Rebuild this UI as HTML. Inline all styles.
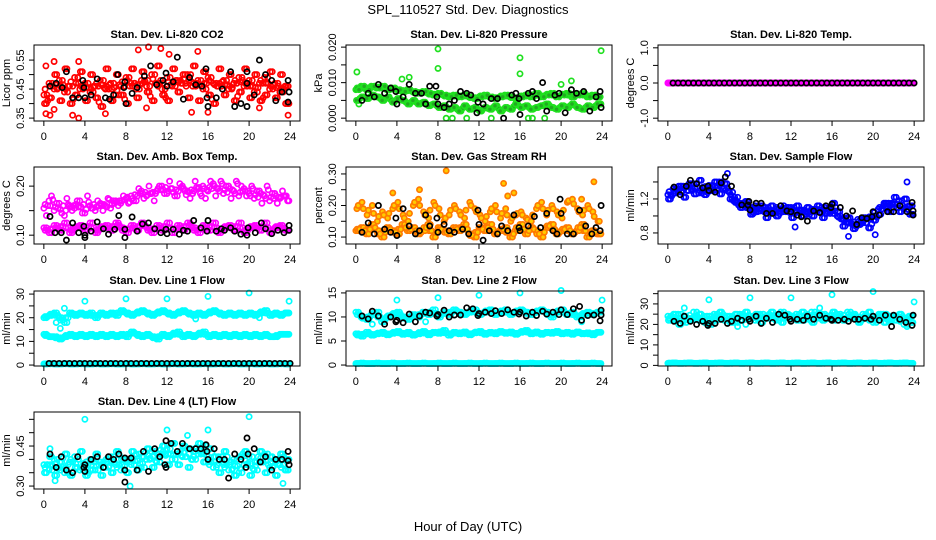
<!DOCTYPE html>
<html><head><meta charset="utf-8"><title>SPL_110527 Std. Dev. Diagnostics</title>
<style>
html,body{margin:0;padding:0;background:#fff;}
svg{display:block;font-family:"Liberation Sans",sans-serif;}
</style></head>
<body>
<svg id="chart" width="936" height="540" viewBox="0 0 936 540" xmlns="http://www.w3.org/2000/svg">
<rect width="936" height="540" fill="#fff"/>
<text x="468" y="14" text-anchor="middle" font-size="13">SPL_110527  Std. Dev. Diagnostics</text>
<text x="468" y="531" text-anchor="middle" font-size="13">Hour of Day (UTC)</text>
</svg>
<script>
// ---- data ----
const xTicks = [0,4,8,12,16,20,24];
const co2A = [0.43,0.47,0.45,0.48,0.44,0.46,0.49,0.45,0.47,0.44,0.46,0.48,0.45,0.47,0.43,0.46,0.49,0.47,0.45,0.48,0.46,0.50,0.47,0.45,0.49,0.46,0.48,0.47,0.50,0.46,0.48,0.45,0.49,0.47,0.46,0.48,0.45,0.47,0.49,0.46,0.48,0.44,0.47,0.49,0.45,0.47,0.44,0.46];
const co2B = [0.40,0.42,0.50,0.41,0.52,0.40,0.43,0.51,0.41,0.50,0.42,0.39,0.52,0.41,0.50,0.43,0.40,0.52,0.42,0.51,0.44,0.41,0.53,0.43,0.41,0.52,0.44,0.50,0.42,0.53,0.41,0.51,0.43,0.40,0.52,0.43,0.50,0.41,0.44,0.52,0.42,0.50,0.41,0.43,0.51,0.42,0.50,0.40];
const co2OutX = [0.2,0.2,0.6,1.0,1.0,2.8,3.4,3.4,9.2,10.2,11.4,12.2,15,14.4,16,23.8,6,10,21];
const co2OutY = [0.53,0.365,0.36,0.545,0.38,0.36,0.35,0.545,0.585,0.595,0.59,0.57,0.58,0.37,0.37,0.36,0.365,0.385,0.385];
const co2BlkX = [0.6,1.2,1.8,2.2,2.8,3.4,3.8,3.9,4,4.6,5.2,6,6.4,6.8,7.2,7.8,7.9,8,8.6,9.1,9.8,10.4,11,11.6,11.9,12,12.6,13,13.6,14.2,14.8,15.4,15.8,15.9,16,16.8,17.4,18.2,18.6,19.2,19.8,19.8,19.8,20.5,21,21.6,22.2,22.6,23.2,23.8,23.9,23.8];
const co2BlkY = [0.46,0.47,0.455,0.51,0.42,0.42,0.48,0.455,0.42,0.43,0.485,0.42,0.415,0.43,0.5,0.455,0.475,0.4,0.435,0.455,0.495,0.53,0.465,0.48,0.505,0.46,0.475,0.56,0.415,0.49,0.465,0.46,0.52,0.42,0.39,0.42,0.45,0.51,0.39,0.40,0.47,0.51,0.39,0.43,0.55,0.5,0.48,0.41,0.44,0.48,0.44,0.405];

const prA = [0.008,0.009,0.008,0.009,0.0085,0.009,0.008,0.0085,0.008,0.0075,0.008,0.0075,0.007,0.0075,0.007,0.0065,0.007,0.0065,0.006,0.0065,0.006,0.0065,0.006,0.0055,0.006,0.0065,0.006,0.0055,0.006,0.0065,0.006,0.0055,0.006,0.0065,0.006,0.007,0.006,0.0065,0.007,0.006,0.0065,0.007,0.006,0.0065,0.007,0.006,0.0065,0.006];
const prB = [0.005,0.006,0.0055,0.0065,0.006,0.005,0.006,0.0045,0.0055,0.005,0.004,0.005,0.004,0.0045,0.0035,0.004,0.003,0.0035,0.0025,0.003,0.002,0.0035,0.0025,0.003,0.002,0.003,0.0025,0.0035,0.002,0.003,0.0025,0.004,0.003,0.0035,0.0025,0.003,0.0035,0.004,0.003,0.0025,0.0035,0.003,0.004,0.003,0.0025,0.0035,0.003,0.004];
const prOutX = [0.1,0.3,4.5,5.2,8,8,16,16,23.9,20,21,8.8,9.4,10.8,13.2,16.8,17.2,18.4];
const prOutY = [0.013,0.004,0.011,0.0115,0.0195,0.014,0.017,0.0125,0.019,0.0095,0.0105,0,0,0,0,0,0,0];
const prBlkX = [0.6,1.2,1.8,2.2,2.8,3.4,3.9,4,4.6,5.2,5.8,6.4,6.8,7.2,7.8,7.9,8,8.6,9.1,9.6,10.2,10.8,11.2,11.8,11.9,12.4,13.2,13.8,14.4,15.2,15.6,15.9,16,16.8,17.2,17.6,18.2,18.6,19.4,19.8,20.4,21,21.5,22.2,22.8,23.4,23.8,23.9];
const prBlkY = [0.005,0.007,0.006,0.0095,0.007,0.0085,0.0075,0.004,0.006,0.0095,0.007,0.007,0.004,0.009,0.009,0.006,0.004,0.003,0.004,0.005,0.0075,0.007,0.0065,0.0015,0.0045,0.004,0.0055,0.0055,0,0.0065,0.007,0.0055,0.001,0.007,0.0075,0.0055,0.01,0.002,0.0065,0.007,0.0015,0.008,0.007,0.0075,0.002,0.006,0.0075,0.003];

const tmpMag = [0,0,0,0,0,0,0,0,0,0,0,0,0,0,0,0,0,0,0,0,0,0,0,0,0,0,0,0,0,0,0,0,0,0,0,0,0,0,0,0,0,0,0,0,0,0,0,0];
const tmpBlk = [0,0,0,0,0,0,0,0,0,0,0,0,0,0,0,0,0,0,0,0,0,0,0,0,0,0,0,0,0,0,0,0,0,0,0,0,0,0,0,0,0,0,0,0,0,0,0,0];

const ambUp = [0.155,0.17,0.15,0.165,0.14,0.16,0.155,0.17,0.145,0.16,0.15,0.165,0.16,0.155,0.17,0.165,0.175,0.18,0.17,0.19,0.18,0.185,0.19,0.2,0.185,0.195,0.18,0.2,0.19,0.185,0.195,0.2,0.19,0.205,0.195,0.185,0.2,0.19,0.18,0.195,0.185,0.175,0.19,0.18,0.17,0.185,0.175,0.18];
const ambUp2 = [0.14,0.18,0.165,0.145,0.175,0.15,0.17,0.145,0.18,0.155,0.17,0.15,0.175,0.17,0.16,0.18,0.165,0.17,0.195,0.175,0.2,0.17,0.2,0.185,0.21,0.18,0.205,0.19,0.175,0.21,0.185,0.175,0.21,0.18,0.21,0.2,0.175,0.21,0.2,0.18,0.2,0.19,0.165,0.2,0.185,0.165,0.19,0.17];
const ambLow = [0.115,0.105,0.12,0.11,0.125,0.105,0.115,0.12,0.11,0.125,0.105,0.115,0.12,0.11,0.125,0.115,0.105,0.12,0.11,0.125,0.115,0.105,0.12,0.11,0.125,0.105,0.12,0.11,0.125,0.115,0.105,0.12,0.11,0.125,0.105,0.115,0.12,0.11,0.125,0.105,0.115,0.12,0.11,0.125,0.105,0.115,0.12,0.11];
const ambBlkX = [0.6,1.1,1.7,2.2,2.8,3.4,3.9,4,4,4.6,5.2,5.8,6.3,6.9,7.3,7.9,7.9,8.6,9.1,9.6,10.2,10.8,11.4,11.9,12,12.6,13.2,13.6,14,14.6,15.3,15.9,16,16.8,17.3,17.6,18.2,18.6,19.2,19.8,19.9,20.6,21.2,21.6,22.2,22.8,23.4,23.9,23.9];
const ambBlkY = [0.138,0.105,0.105,0.09,0.125,0.105,0.118,0.1,0.095,0.108,0.127,0.113,0.102,0.112,0.14,0.112,0.095,0.137,0.108,0.123,0.125,0.113,0.105,0.112,0.103,0.112,0.102,0.11,0.108,0.13,0.115,0.108,0.13,0.108,0.113,0.11,0.115,0.108,0.102,0.1,0.115,0.105,0.125,0.113,0.103,0.11,0.105,0.11,0.12];

const rhLow = [0.12,0.13,0.11,0.14,0.12,0.10,0.13,0.12,0.11,0.14,0.12,0.13,0.11,0.12,0.14,0.10,0.13,0.12,0.11,0.13,0.12,0.14,0.11,0.10,0.13,0.12,0.14,0.11,0.12,0.13,0.10,0.12,0.14,0.11,0.13,0.12,0.10,0.13,0.14,0.11,0.12,0.13,0.11,0.12,0.14,0.10,0.12,0.11];
const rhHigh = [0.19,0.21,0.17,0.20,0.15,0.18,0.16,0.19,0.21,0.17,0.15,0.20,0.22,0.18,0.16,0.21,0.19,0.15,0.17,0.20,0.18,0.16,0.21,0.19,0.17,0.15,0.18,0.20,0.16,0.19,0.15,0.17,0.18,0.16,0.15,0.19,0.21,0.17,0.20,0.18,0.16,0.21,0.22,0.19,0.17,0.20,0.18,0.15];
const rhOutX = [8.8,14.4,23.2,6.2,3.6,15.4,14.8,22];
const rhOutY = [0.31,0.27,0.275,0.25,0.24,0.24,0.23,0.22];
const rhBlkX = [0.6,1.2,1.8,2.2,2.8,3.4,3.9,4,4.6,5.2,5.8,6.2,6.8,7.2,7.9,8,8.6,9.1,9.6,10.4,11,11.9,12,12.4,13,13.8,14.2,14.8,15.4,15.9,16,16.8,17.4,18,18.6,19.2,19.6,19.9,20,20.6,21.2,21.8,22.4,23,23.4,23.8,23.9];
const rhBlkY = [0.115,0.145,0.11,0.2,0.125,0.115,0.16,0.105,0.19,0.135,0.11,0.12,0.17,0.135,0.16,0.115,0.14,0.12,0.115,0.125,0.11,0.185,0.14,0.09,0.12,0.11,0.135,0.12,0.17,0.13,0.12,0.135,0.165,0.13,0.175,0.12,0.11,0.22,0.175,0.11,0.11,0.185,0.135,0.11,0.13,0.12,0.2];

const flA = [1.25,1.32,1.28,1.35,1.30,1.38,1.27,1.33,1.36,1.30,1.40,1.33,1.28,1.22,1.15,1.12,1.08,1.12,1.06,1.10,1.03,1.08,1.12,1.05,1.10,1.04,1.07,1.02,1.08,1.05,1.10,1.03,1.06,1.00,0.97,0.93,0.90,0.96,0.92,0.98,1.00,1.08,1.12,1.15,1.10,1.18,1.08,1.12];
const flB = [1.20,1.27,1.35,1.22,1.38,1.26,1.42,1.25,1.30,1.40,1.26,1.38,1.20,1.16,1.10,1.17,1.02,1.05,1.12,0.98,1.12,1.00,1.05,1.10,0.98,1.12,1.00,1.10,1.00,1.12,0.98,1.08,1.15,1.05,0.88,0.98,0.85,0.90,0.98,0.86,0.95,1.02,1.15,1.05,1.22,1.05,1.20,1.02];
const flOutX = [5.8,23.3,17.6,20.2,12.4,1.3];
const flOutY = [1.5,1.4,0.76,0.78,0.87,1.35];
const flBlkX = [0.6,1.2,1.8,2.2,2.8,3.4,3.9,4,4.6,5.2,5.6,6.2,7.2,7.8,7.9,8,8.6,9.1,9.6,10.2,11,11.6,12,12.6,13,13.6,14.2,14.8,15.4,15.9,16,16.8,17.4,18,18.4,18.9,19.4,19.9,20,20.6,21.4,22,22.6,23.3,23.8,23.9,23.9];
const flBlkY = [1.34,1.25,1.35,1.42,1.38,1.33,1.35,1.3,1.28,1.39,1.46,1.35,1.13,1.13,1.17,1.07,1.15,1.15,1.03,1.03,1.12,1.06,1.05,1.01,0.99,0.94,1.06,1.04,1.12,1.1,1.14,1.1,1.0,1.06,0.9,0.98,0.97,0.99,1.05,1.01,1.05,1.05,1.12,1.05,1.16,1.06,1.01];

const l1High = [20,21,22,20,18,22,21,22,21,22,20,22,21,22,21,23,22,21,22,23,22,21,22,23,22,21,22,23,22,21,22,21,22,23,22,21,22,21,22,21,22,21,22,23,21,22,21,22];
const l1Mid = [13,12,12,11,12,13,12,13,12,13,12,13,12,13,12,13,12,14,13,12,13,12,11,13,12,13,14,12,13,12,13,14,12,13,12,13,12,13,12,13,12,13,12,13,12,12,13,13];
const l1Low = [0.5,0.6,0.5,0.5,0.6,0.5,0.5,0.6,0.5,0.5,0.6,0.5,0.5,0.6,0.5,0.5,0.6,0.5,0.5,0.6,0.5,0.5,0.6,0.5,0.5,0.6,0.5,0.5,0.6,0.5,0.5,0.6,0.5,0.5,0.6,0.5,0.5,0.6,0.5,0.5,0.6,0.5,0.5,0.6,0.5,0.5,0.6,0.5];
const l1OutX = [1.6,1.2,2,4,8,12,16,20,23.9,14.8,21];
const l1OutY = [15.5,18,24,27,28,28,29,30.5,27,19.5,20];
const l1Blk = [0.7,0.7,0.7,0.7,0.7,0.7,0.7,0.7,0.7,0.7,0.7,0.7,0.7,0.7,0.7,0.7,0.7,0.7,0.7,0.7,0.7,0.7,0.7,0.7,0.7,0.7,0.7,0.7,0.7,0.7,0.7,0.7,0.7,0.7,0.7,0.7,0.7,0.7,0.7,0.7,0.7,0.7,0.7,0.7,0.7,0.7,0.7,0.7];

const l2High = [11,10,9.5,10.5,11,9,10,10.5,11,10,9.5,10.5,10,11,10.5,11.5,10,11,10.5,11.5,11,10.5,11,11.5,10.5,11,11.5,10.5,11,11.5,10.5,11,11.5,11,10.5,11,11.5,11,10,11,11.5,10.5,11,10,10.5,11,10.5,11];
const l2Mid = [6.5,6,6.8,6.2,6.5,6.8,6.3,6.6,7,6.4,6.8,6.2,6.5,7,6.3,6.8,6.6,7.2,6.2,6.8,6.5,6.9,6.3,6.7,7,6.4,6.8,6.5,7,6.6,6.9,6.4,6.8,7.2,6.5,6.9,6.4,6.8,6.6,7,6.5,6.8,6.4,6.9,6.5,6.7,6.3,6.8];
const l2Low = [0.3,0.4,0.3,0.3,0.4,0.3,0.3,0.4,0.3,0.3,0.4,0.3,0.3,0.4,0.3,0.3,0.4,0.3,0.3,0.4,0.3,0.3,0.4,0.3,0.3,0.4,0.3,0.3,0.4,0.3,0.3,0.4,0.3,0.3,0.4,0.3,0.3,0.4,0.3,0.3,0.4,0.3,0.3,0.4,0.3,0.3,0.4,0.3];
const l2OutX = [4,8,12,16,20,24,1.6,6.8,22];
const l2OutY = [13.5,14,14.5,15,15.5,13.5,8.5,9,9];
const l2BlkX = [0.6,1.2,1.6,2.2,2.8,3.4,3.9,4,4.6,5.2,5.8,6.2,6.8,7.2,7.9,8,8.6,9.1,9.6,10.2,10.8,11.4,11.9,12,12.6,13.2,13.6,14.2,14.8,15.4,15.9,16,16.6,17.2,17.6,18.2,18.6,19.2,19.8,20,20.6,21.2,21.8,22,22.6,23.2,23.8,23.9,23.9];
const l2BlkY = [10.2,9.6,11.2,10.2,8.5,10,9,9.3,8.8,10.6,9,10.2,11,10.8,10.2,10.5,11.4,10,10.4,10.4,11.9,11.7,10.3,10.7,11,10.7,11.3,10.7,11.5,11,10.6,11,10.2,11,10.3,11.2,10.6,11,10.5,11.5,10.5,11.7,12.2,9.3,10.3,10.4,9.2,11.4,10.4];

const l3A = [24,22,25,21,23,26,22,24,20,25,23,22,24,21,25,23,24,22,25,23,24,22,26,24,23,25,22,24,26,23,25,24,22,25,23,26,24,22,25,23,21,24,25,22,24,23,20,24];
const l3B = [22,25,20,24,22,23,25,21,24,22,26,24,21,25,22,26,23,25,21,24,26,23,21,25,24,22,26,23,21,25,22,23,26,24,22,23,25,21,23,26,22,25,21,24,22,25,23,21];
const l3Low = [1,1.2,1,1,1.2,1,1,1.2,1,1,1.2,1,1,1.2,1,1,1.2,1,1,1.2,1,1,1.2,1,1,1.2,1,1,1.2,1,1,1.2,1,1,1.2,1,1,1.2,1,1,1.2,1,1,1.2,1,1,1.2,1];
const l3OutX = [4,8,12,16,20,24,1.6,14.8,23.3,6.8,7.6];
const l3OutY = [32,33,33,34.5,36,31,28,28,19,19,20];
const l3BlkX = [0.6,1.2,1.6,2.2,2.8,3.4,3.9,4,4.6,5.2,5.8,6.2,6.8,7.2,7.9,8,8.6,9.1,9.6,10.2,10.8,11.4,11.9,12,12.6,13.2,13.6,14.2,14.8,15.4,15.9,16,16.6,17.2,17.6,18.2,18.6,19.2,19.8,20,20.6,21.2,21.8,22,22.6,23.2,23.8,23.9];
const l3BlkY = [21.5,20.5,24,21.5,20,21.5,19.5,20.5,20.5,22.5,20.5,21.5,23,22,22.5,21.5,24,20.5,23,21,25,24.5,22.5,21.5,22.5,22,24,22.5,24.5,23,22.5,22,22,22.5,21.5,22.5,22.5,23,22.5,24,22,24.5,19,24.5,22.5,21,19.5,24.5];

const ltA = [0.38,0.36,0.40,0.37,0.35,0.39,0.41,0.36,0.38,0.40,0.36,0.39,0.37,0.41,0.38,0.36,0.40,0.38,0.42,0.37,0.40,0.43,0.39,0.42,0.44,0.40,0.43,0.41,0.44,0.40,0.42,0.45,0.39,0.37,0.41,0.38,0.36,0.40,0.35,0.38,0.41,0.36,0.39,0.42,0.37,0.40,0.38,0.36];
const ltB = [0.35,0.41,0.34,0.39,0.42,0.34,0.37,0.43,0.34,0.36,0.42,0.34,0.40,0.35,0.43,0.40,0.35,0.43,0.36,0.41,0.44,0.37,0.42,0.45,0.38,0.46,0.38,0.45,0.37,0.43,0.46,0.39,0.44,0.41,0.35,0.43,0.39,0.34,0.41,0.43,0.34,0.39,0.43,0.35,0.41,0.34,0.42,0.40];
const ltOutX = [4,20,12,16,14,8.4,23.3,1.1,0.6];
const ltOutY = [0.55,0.56,0.51,0.51,0.49,0.3,0.31,0.32,0.44];
const ltBlkX = [0.6,1.2,1.7,2.2,2.8,3.3,3.9,4,4,4.6,5.2,5.8,6.3,6.8,7.3,7.9,7.9,7.9,8.5,9.1,9.7,10.2,10.8,11.3,11.8,11.9,11.9,12.4,13,13.5,14.2,14.8,15.3,15.8,15.9,16,16.6,17.1,17.6,18,18.6,19.2,19.7,19.8,19.9,20.5,21.1,21.6,22.2,22.6,23.2,23.8,23.8,23.9];
const ltBlkY = [0.42,0.37,0.41,0.36,0.35,0.41,0.37,0.38,0.355,0.40,0.41,0.37,0.41,0.40,0.42,0.36,0.405,0.315,0.405,0.36,0.43,0.355,0.44,0.41,0.38,0.47,0.37,0.46,0.43,0.46,0.44,0.44,0.44,0.455,0.43,0.40,0.44,0.40,0.40,0.33,0.42,0.40,0.37,0.48,0.42,0.44,0.39,0.41,0.36,0.40,0.40,0.43,0.395,0.38];

// ---- rendering ----
const NS = 'http://www.w3.org/2000/svg';
const svg = document.getElementById('chart');
const colLeft = [34, 346, 658];
const rowTop = [45, 167, 291, 412];
const rowBot = [121, 244, 366, 489];
const W = 266;
const XLIM = [-0.96, 24.96];

function mk(tag, attrs, parent) {
  const e = document.createElementNS(NS, tag);
  for (const k in attrs) e.setAttribute(k, attrs[k]);
  (parent || svg).appendChild(e);
  return e;
}
function bandX(i, off) { return i * 0.5 + off; }

function panel(cfg) {
  const L = colLeft[cfg.col], T = rowTop[cfg.row], B = rowBot[cfg.row], H = B - T;
  const g = mk('g', {});
  
  
  const sx = x => L + (x - XLIM[0]) / (XLIM[1] - XLIM[0]) * W;
  const sy = y => B - (y - cfg.ylim[0]) / (cfg.ylim[1] - cfg.ylim[0]) * H;
  const ptsG = mk('g', {}, g);
  
  
  function dot(x, y, color, fill) {
    const c = mk('circle', {cx: sx(x).toFixed(1), cy: sy(y).toFixed(1), r: 2.6, fill: fill || 'none', stroke: color, 'stroke-width': 1.7}, ptsG);
    
    
  }
  cfg.bands.forEach(b => {
    const n = b.ys.length;
    b.ys.forEach((y, i) => {
      dot(bandX(i, b.off), y, b.color, b.fill);
      if (!b.single) {
        const y2 = b.ys[Math.min(i + 1, n - 1)];
        dot(bandX(i, b.off + 0.125), (y + y2) / 2, b.color, b.fill);
      }
    });
  });
  cfg.scatter.forEach(s => {
    s.xs.forEach((x, i) => dot(x, s.ys[i], s.color, s.fill));
  });
  const fr = mk('rect', {x: L, y: T, width: W, height: H, fill: 'none', stroke: '#000', 'stroke-width': 1}, g);
  
  
  const xa = mk('g', {}, g);
  
  
  mk('line', {x1: sx(0), x2: sx(24), y1: B, y2: B, stroke: '#000'}, xa);
  xTicks.forEach(t => {
    mk('line', {x1: sx(t), x2: sx(t), y1: B, y2: B + 5, stroke: '#000'}, xa);
    const tx = mk('text', {x: sx(t), y: B + 19, 'text-anchor': 'middle', 'font-size': 11}, xa);
    tx.textContent = t;
    
    
  });
  const ya = mk('g', {}, g);
  
  
  const yt = cfg.yticks;
  mk('line', {x1: L, x2: L, y1: sy(yt[0]), y2: sy(yt[yt.length - 1]), stroke: '#000'}, ya);
  yt.forEach(t => {
    mk('line', {x1: L - 5, x2: L, y1: sy(t), y2: sy(t), stroke: '#000'}, ya);
  });
  cfg.ylabels.forEach((lab, i) => {
    const yy = sy(cfg.ylabelVals[i]);
    const tx = mk('text', {x: L - 10, y: yy, 'text-anchor': 'middle', 'font-size': 11, transform: `rotate(-90 ${L - 10} ${yy})`}, ya);
    tx.textContent = lab;
    
    
  });
  const yl = mk('text', {x: L - 24, y: (T + B) / 2, 'text-anchor': 'middle', 'font-size': 11, transform: `rotate(-90 ${L - 24} ${(T + B) / 2})`}, g);
  yl.textContent = cfg.ytitle;
  
  
  const ti = mk('text', {x: L + W / 2, y: T - 7, 'text-anchor': 'middle', 'font-size': 11, 'font-weight': 'bold'}, g);
  ti.textContent = cfg.title;
  
  
}

const RED = '#ff0000', GRN = '#1fe01f', MAG = '#ff00ff', ORG = '#ff7a00', BLU = '#0000ff', CYN = '#00ffff', BLK = '#000';

panel({name: 'panel-co2', col: 0, row: 0, title: 'Stan. Dev. Li-820 CO2', ytitle: 'Licor ppm', ylim: [0.34, 0.602],
  yticks: [0.35, 0.40, 0.45, 0.50, 0.55], ylabels: ['0.35', '0.45', '0.55'], ylabelVals: [0.35, 0.45, 0.55],
  bands: [{ys: co2A, off: 0, color: RED}, {ys: co2B, off: 0.25, color: RED}, {ys: co2B, off: 0.06, color: RED, single: true}, {ys: co2A, off: 0.31, color: RED, single: true}],
  scatter: [{xs: co2OutX, ys: co2OutY, color: RED}, {xs: co2BlkX, ys: co2BlkY, color: BLK}]});
panel({name: 'panel-pressure', col: 1, row: 0, title: 'Stan. Dev. Li-820 Pressure', ytitle: 'kPa', ylim: [-0.0008, 0.0206],
  yticks: [0, 0.005, 0.01, 0.015, 0.02], ylabels: ['0.000', '0.010', '0.020'], ylabelVals: [0, 0.01, 0.02],
  bands: [{ys: prA, off: 0, color: GRN, fill: '#22aa22'}, {ys: prB, off: 0.25, color: GRN, fill: '#22aa22'}, {ys: prB, off: 0.06, color: GRN, fill: '#22aa22', single: true}, {ys: prA, off: 0.31, color: GRN, fill: '#22aa22', single: true}],
  scatter: [{xs: prOutX, ys: prOutY, color: GRN}, {xs: prBlkX, ys: prBlkY, color: BLK}]});
panel({name: 'panel-temp', col: 2, row: 0, title: 'Stan. Dev. Li-820 Temp.', ytitle: 'degrees C', ylim: [-1.08, 1.08],
  yticks: [-1, -0.5, 0, 0.5, 1], ylabels: ['-1.0', '0.0', '1.0'], ylabelVals: [-1, 0, 1],
  bands: [{ys: tmpMag, off: 0, color: MAG}, {ys: tmpMag, off: 0.25, color: MAG}, {ys: tmpBlk, off: 0.5, color: BLK, single: true}],
  scatter: []});
panel({name: 'panel-amb-box-temp', col: 0, row: 1, title: 'Stan. Dev. Amb. Box Temp.', ytitle: 'degrees C', ylim: [0.082, 0.239],
  yticks: [0.10, 0.15, 0.20], ylabels: ['0.10', '0.20'], ylabelVals: [0.10, 0.20],
  bands: [{ys: ambUp, off: 0, color: MAG}, {ys: ambUp2, off: 0.25, color: MAG}, {ys: ambLow, off: 0, color: MAG}, {ys: ambLow, off: 0.25, color: MAG}],
  scatter: [{xs: ambBlkX, ys: ambBlkY, color: BLK}]});
panel({name: 'panel-gas-rh', col: 1, row: 1, title: 'Stan. Dev. Gas Stream RH', ytitle: 'percent', ylim: [0.078, 0.322],
  yticks: [0.10, 0.15, 0.20, 0.25, 0.30], ylabels: ['0.10', '0.20', '0.30'], ylabelVals: [0.10, 0.20, 0.30],
  bands: [{ys: rhLow, off: 0, color: ORG, fill: '#ffcc00'}, {ys: rhLow, off: 0.25, color: ORG, fill: '#ffcc00'}, {ys: rhHigh, off: 0.1, color: ORG, fill: '#ffcc00'}],
  scatter: [{xs: rhOutX, ys: rhOutY, color: ORG, fill: '#ffcc00'}, {xs: rhBlkX, ys: rhBlkY, color: BLK}]});
panel({name: 'panel-sample-flow', col: 2, row: 1, title: 'Stan. Dev. Sample Flow', ytitle: 'ml/min', ylim: [0.67, 1.576],
  yticks: [0.8, 1.0, 1.2, 1.4], ylabels: ['0.8', '1.2'], ylabelVals: [0.8, 1.2],
  bands: [{ys: flA, off: 0, color: BLU}, {ys: flB, off: 0.25, color: BLU}, {ys: flB, off: 0.06, color: BLU, single: true}, {ys: flA, off: 0.31, color: BLU, single: true}],
  scatter: [{xs: flOutX, ys: flOutY, color: BLU}, {xs: flBlkX, ys: flBlkY, color: BLK}]});
panel({name: 'panel-line1-flow', col: 0, row: 2, title: 'Stan. Dev. Line 1 Flow', ytitle: 'ml/min', ylim: [-0.4, 31.3],
  yticks: [0, 5, 10, 15, 20, 25, 30], ylabels: ['0', '10', '20', '30'], ylabelVals: [0, 10, 20, 30],
  bands: [{ys: l1High, off: 0, color: CYN}, {ys: l1High, off: 0.25, color: CYN}, {ys: l1Mid, off: 0, color: CYN}, {ys: l1Mid, off: 0.25, color: CYN}, {ys: l1Low, off: 0, color: CYN}, {ys: l1Low, off: 0.25, color: CYN}, {ys: l1Blk, off: 0.5, color: BLK, single: true}],
  scatter: [{xs: l1OutX, ys: l1OutY, color: CYN}]});
panel({name: 'panel-line2-flow', col: 1, row: 2, title: 'Stan. Dev. Line 2 Flow', ytitle: 'ml/min', ylim: [-0.2, 15.4],
  yticks: [0, 5, 10, 15], ylabels: ['0', '5', '10', '15'], ylabelVals: [0, 5, 10, 15],
  bands: [{ys: l2High, off: 0, color: CYN}, {ys: l2High, off: 0.25, color: CYN}, {ys: l2Mid, off: 0, color: CYN}, {ys: l2Mid, off: 0.25, color: CYN}, {ys: l2Low, off: 0, color: CYN}, {ys: l2Low, off: 0.25, color: CYN}],
  scatter: [{xs: l2OutX, ys: l2OutY, color: CYN}, {xs: l2BlkX, ys: l2BlkY, color: BLK}]});
panel({name: 'panel-line3-flow', col: 2, row: 2, title: 'Stan. Dev. Line 3 Flow', ytitle: 'ml/min', ylim: [-0.3, 36.3],
  yticks: [0, 5, 10, 15, 20, 25, 30, 35], ylabels: ['0', '10', '20', '30'], ylabelVals: [0, 10, 20, 30],
  bands: [{ys: l3A, off: 0, color: CYN}, {ys: l3B, off: 0.25, color: CYN}, {ys: l3B, off: 0.06, color: CYN, single: true}, {ys: l3A, off: 0.31, color: CYN, single: true}, {ys: l3Low, off: 0, color: CYN}, {ys: l3Low, off: 0.25, color: CYN}],
  scatter: [{xs: l3OutX, ys: l3OutY, color: CYN}, {xs: l3BlkX, ys: l3BlkY, color: BLK}]});
panel({name: 'panel-line4-flow', col: 0, row: 3, title: 'Stan. Dev. Line 4 (LT) Flow', ytitle: 'ml/min', ylim: [0.289, 0.5775],
  yticks: [0.30, 0.35, 0.40, 0.45, 0.50, 0.55], ylabels: ['0.30', '0.45'], ylabelVals: [0.30, 0.45],
  bands: [{ys: ltA, off: 0, color: CYN}, {ys: ltB, off: 0.25, color: CYN}, {ys: ltB, off: 0.06, color: CYN, single: true}, {ys: ltA, off: 0.31, color: CYN, single: true}],
  scatter: [{xs: ltOutX, ys: ltOutY, color: CYN}, {xs: ltBlkX, ys: ltBlkY, color: BLK}]});
</script>
</body></html>
